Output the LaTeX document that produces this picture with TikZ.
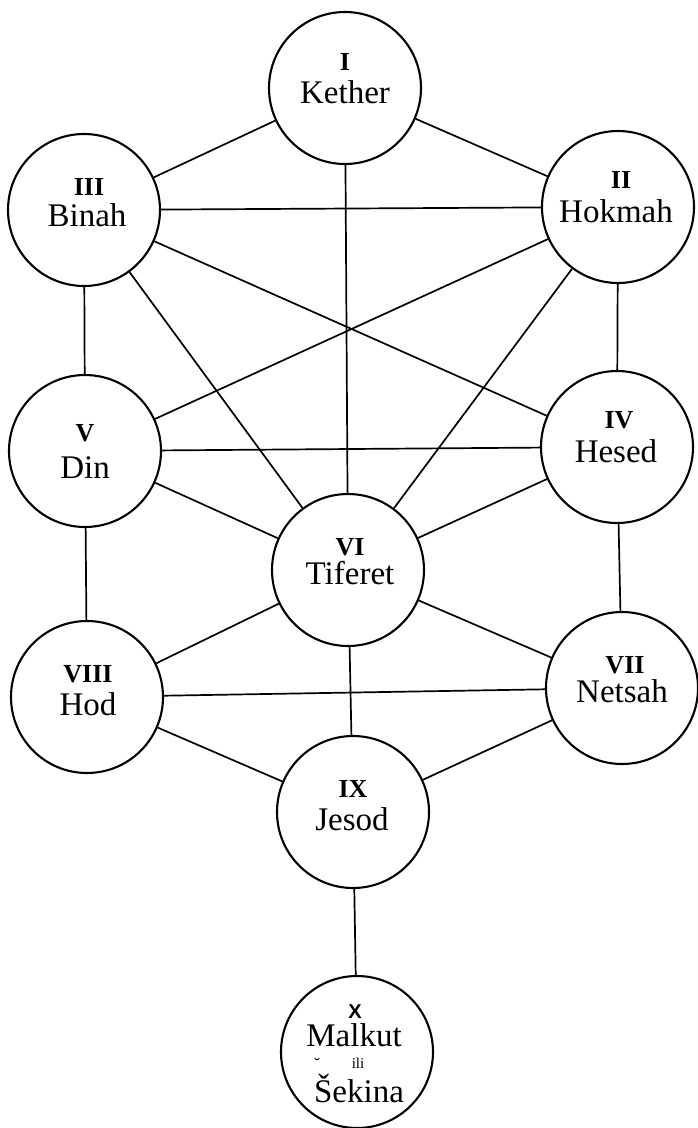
\documentclass[tikz,border=0pt]{standalone}
\usepackage{fontspec}
\setmainfont{Liberation Serif}
\newfontfamily\xsans{Liberation Sans}
\begin{document}
\begin{tikzpicture}[x=1pt,y=-1pt,
  sef/.style={circle,draw,line width=2.1pt,minimum size=152pt,inner sep=0pt},
  conn/.style={line width=1.7pt},
  nm/.style={anchor=base,inner sep=0pt,font=\fontsize{33}{33}\selectfont},
  num/.style={anchor=base,inner sep=0pt,font=\bfseries\fontsize{26}{26}\selectfont},
  sm/.style={anchor=base,inner sep=0pt,font=\fontsize{15}{15}\selectfont}]
\useasboundingbox (0,0) rectangle (698,1128);
\node[sef] (kether) at (345,88) {};
\node[sef] (binah) at (84,210) {};
\node[sef] (hokmah) at (618,207) {};
\node[sef] (din) at (85,451) {};
\node[sef] (hesed) at (617,447) {};
\node[sef] (tiferet) at (348,570) {};
\node[sef] (hod) at (87,697) {};
\node[sef] (netsah) at (622,688) {};
\node[sef] (jesod) at (353,812) {};
\node[sef] (malkut) at (357,1052) {};
% connectors
\draw[conn] (kether) -- (binah);
\draw[conn] (kether) -- (hokmah);
\draw[conn] (kether) -- (tiferet);
\draw[conn] (binah) -- (hokmah);
\draw[conn] (binah) -- (din);
\draw[conn] (binah) -- (tiferet);
\draw[conn] (binah) -- (hesed);
\draw[conn] (hokmah) -- (hesed);
\draw[conn] (hokmah) -- (din);
\draw[conn] (hokmah) -- (tiferet);
\draw[conn] (din) -- (hesed);
\draw[conn] (din) -- (tiferet);
\draw[conn] (din) -- (hod);
\draw[conn] (hesed) -- (tiferet);
\draw[conn] (hesed) -- (netsah);
\draw[conn] (tiferet) -- (hod);
\draw[conn] (tiferet) -- (netsah);
\draw[conn] (tiferet) -- (jesod);
\draw[conn] (hod) -- (netsah);
\draw[conn] (hod) -- (jesod);
\draw[conn] (netsah) -- (jesod);
\draw[conn] (jesod) -- (malkut);
% labels
\node[num] (n1) at (345,70) {I};
\node[nm] (t1) at (345,103) {Kether};
\node[num] (n3) at (89,195) {III};
\node[nm] (t3) at (87,226) {Binah};
\node[num] (n2) at (621,188) {II};
\node[nm] (t2) at (616,222) {Hokmah};
\node[num] (n5) at (85,441) {V};
\node[nm] (t5) at (85,478) {Din};
\node[num] (n4) at (619,428) {IV};
\node[nm] (t4) at (616,462) {Hesed};
\node[num] (n6) at (350,555) {VI};
\node[nm] (t6) at (350,584) {Tiferet};
\node[num] (n8) at (88,682) {VIII};
\node[nm] (t8) at (88,715) {Hod};
\node[num] (n7) at (625,673) {VII};
\node[nm] (t7) at (622,702) {Netsah};
\node[num] (n9) at (353,797) {IX};
\node[nm] (t9) at (352,830) {Jesod};
\node[anchor=base,inner sep=0pt,font=\xsans\bfseries\fontsize{20}{20}\selectfont] (n10) at (355,1018) {X};
\node[nm] (t10) at (354,1046) {Malkut};
\node[sm] (ili) at (358,1068) {ili};
\node[nm] (t11) at (359,1102) {Šekina};
\node[anchor=base,inner sep=0pt,font=\fontsize{18}{18}\selectfont] (br) at (317,1070) {˘};
\end{tikzpicture}
\end{document}
